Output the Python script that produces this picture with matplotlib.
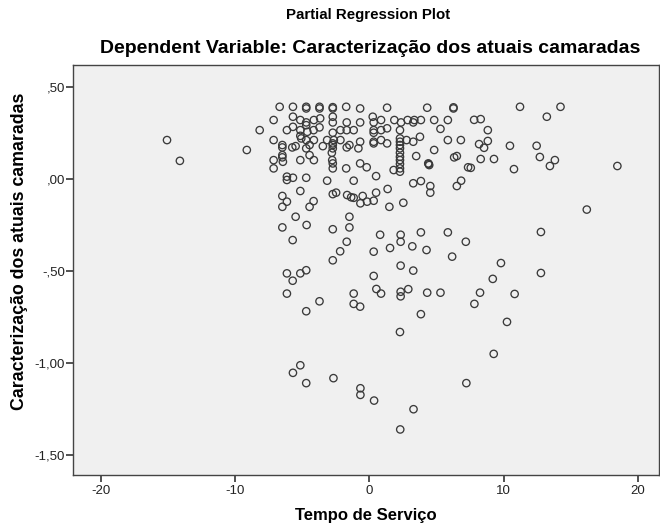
import matplotlib
matplotlib.use("Agg")
import matplotlib.pyplot as plt
from matplotlib.ticker import FuncFormatter

plt.rcParams['font.family'] = ['Liberation Sans', 'DejaVu Sans']
plt.rcParams['axes.unicode_minus'] = False

# residuals (Tempo de Serviço, Caracterização)
tempo = [
    -15.09, -14.13, -9.14, -8.18, -7.14, -7.14, -7.14, -7.14,
    -6.69, -5.70, -4.71, -4.71, -3.72, -3.72, -2.73, -2.73, -1.73, -0.69, 1.32, 4.31, 6.27, 6.27,
    11.23, 14.25, 13.23, 7.81, 8.30, 8.83, 8.18, 8.83, 8.55, 10.48, 12.47, 8.30, 9.29, 12.71,
    13.83, 13.46, 7.56, 10.78, 18.49, 16.21,
    -5.70, -5.15, -4.71, -4.71, -4.14, -3.67, -2.73, -2.73, -1.69, -0.69, 0.25, 0.32, 0.87, 1.86,
    2.36, 2.85, 3.35, 3.27, 3.84, 4.83, 5.85,
    -6.15, -5.70, -5.15, -4.63, -4.16, -3.72, -2.73, -2.16, -1.69, -1.17, 0.32, 0.32, 0.87, 1.32,
    2.28, 5.30,
    -5.15, -5.08, -4.71, -4.14, -3.15, -2.65, -2.73, -2.16, -0.69, 0.32, 0.32, 0.87, 1.32, 2.28,
    2.28, 2.28, 2.77, 3.27, 3.77, 5.85, 6.82,
    -6.49, -6.49, -5.75, -5.50, -4.71, -4.46, -3.47, -2.73, -2.73, -2.80, -1.69, -1.49, -0.82,
    2.28, 2.28, 4.83, 3.49,
    -6.49, -6.49, -6.45, -5.15, -4.46, -4.14, -2.77, -2.73, -2.73, -1.73, -0.69, -0.20, 2.28,
    2.28, 2.28, 2.28, 2.28, 1.81, 4.39, 4.46, 4.42, 6.32, 6.52, 7.36,
    -6.15, -6.15, -5.70, -4.71, -3.15, -1.17, 0.50, 1.36, 3.27, 3.84, 4.54, 4.54, 6.52, 6.84,
    -5.15, -6.49, -6.15, -6.49, -4.16, -4.46, -2.73, -2.48, -1.66, -1.36, -1.17, -0.50, -0.67,
    -0.17, 0.32, 0.50, 1.49, 2.53, -5.50, -1.49,
    -6.49, -4.68, -2.73, -1.49, -5.72, -1.69, -2.18, -2.73, 0.80, 2.33, 2.33, 3.84, 5.85, 7.19,
    1.54, 3.20, 4.26, 6.17, 0.32, 2.33, 3.27, 0.32, -6.15, -5.15, -4.71, -5.72, -6.15, -3.72,
    -4.71, -1.17, -1.17, -0.69, 0.52, 0.87, 2.33, 2.33, 2.90, 4.31, 5.30, 3.84, 2.28,
    12.79, 9.81, 12.79, 9.20, 8.25, 10.83, 7.83, 10.26, 9.27,
    -5.70, -5.15, -4.71, -2.68, -0.67, -0.67, 0.35, 3.29, 2.30, 7.23,
]
caracterizacao = [
    0.212, 0.099, 0.158, 0.266, 0.321, 0.212, 0.103, 0.058,
    0.393, 0.393, 0.393, 0.384, 0.393, 0.384, 0.391, 0.384, 0.393, 0.384, 0.388, 0.388, 0.390, 0.384,
    0.393, 0.393, 0.339, 0.322, 0.326, 0.266, 0.190, 0.207, 0.170, 0.181, 0.181, 0.109, 0.109, 0.120,
    0.103, 0.071, 0.061, 0.054, 0.071, -0.166,
    0.339, 0.321, 0.308, 0.293, 0.321, 0.330, 0.339, 0.308, 0.308, 0.308, 0.339, 0.308, 0.321, 0.321,
    0.308, 0.321, 0.321, 0.308, 0.321, 0.321, 0.321,
    0.266, 0.284, 0.266, 0.257, 0.266, 0.281, 0.252, 0.266, 0.266, 0.266, 0.266, 0.252, 0.266, 0.276,
    0.266, 0.273,
    0.235, 0.221, 0.212, 0.212, 0.212, 0.212, 0.194, 0.212, 0.203, 0.203, 0.194, 0.212, 0.194, 0.221,
    0.203, 0.185, 0.212, 0.203, 0.230, 0.212, 0.212,
    0.185, 0.172, 0.172, 0.179, 0.167, 0.185, 0.179, 0.185, 0.167, 0.143, 0.172, 0.185, 0.167,
    0.167, 0.143, 0.158, 0.125,
    0.130, 0.118, 0.094, 0.103, 0.130, 0.103, 0.103, 0.085, 0.058, 0.058, 0.085, 0.064, 0.121,
    0.103, 0.082, 0.058, 0.040, 0.049, 0.085, 0.076, 0.082, 0.118, 0.125, 0.064,
    0.013, -0.005, 0.007, 0.007, -0.009, -0.009, 0.016, -0.054, -0.023, -0.011, -0.038, -0.074, -0.038, -0.009,
    -0.065, -0.092, -0.123, -0.151, -0.120, -0.151, -0.082, -0.074, -0.087, -0.099, -0.102, -0.092, -0.132,
    -0.123, -0.118, -0.074, -0.151, -0.129, -0.205, -0.205,
    -0.263, -0.250, -0.273, -0.263, -0.332, -0.341, -0.393, -0.442, -0.303, -0.303, -0.341, -0.290, -0.290, -0.341,
    -0.375, -0.366, -0.386, -0.422, -0.395, -0.471, -0.498, -0.527, -0.513, -0.513, -0.496, -0.553, -0.623, -0.665,
    -0.719, -0.623, -0.679, -0.694, -0.598, -0.623, -0.613, -0.638, -0.599, -0.618, -0.618, -0.735, -0.832,
    -0.288, -0.457, -0.511, -0.543, -0.618, -0.625, -0.679, -0.777, -0.951,
    -1.054, -1.013, -1.110, -1.083, -1.138, -1.174, -1.205, -1.252, -1.362, -1.110,
]

x_ticks = [-20, -10, 0, 10, 20]
y_ticks = [0.5, 0.0, -0.5, -1.0, -1.5]


def comma_fmt(v, pos):
    s = f"{abs(v):.2f}".replace('.', ',')
    if s.startswith('0,'):
        s = s[1:]
    return ('-' if v < 0 else '') + s


fig = plt.figure(figsize=(6.6, 5.29), dpi=100)
fig.patch.set_facecolor('white')
ax = fig.add_axes([0.1106, 0.102, 0.888, 0.775])
ax.set_facecolor('#f0f0f0')

ax.scatter(tempo, caracterizacao, s=28, facecolors='none', edgecolors='#3a3a3a',
           linewidths=0.95, zorder=3)

ax.set_xlim(-22.1, 21.6)
ax.set_ylim(-1.61, 0.62)
ax.set_xticks(x_ticks)
ax.set_yticks(y_ticks)
ax.yaxis.set_major_formatter(FuncFormatter(comma_fmt))
ax.tick_params(direction='out', length=5, width=1.2, color='#333333',
               labelsize=9.5, labelcolor='#222222', pad=2)
ax.tick_params(axis='y', pad=0.6)

for side in ['left', 'bottom', 'top', 'right']:
    ax.spines[side].set_color('#444444')
    ax.spines[side].set_linewidth(1.0)

ax.set_xlabel('Tempo de Serviço', fontsize=12, fontweight='bold', labelpad=8)
ax.set_ylabel('Caracterização dos atuais camaradas', fontsize=12.8, fontweight='bold')
ax.yaxis.set_label_coords(-0.077, 0.546)

fig.text(0.558, 0.972, 'Partial Regression Plot', ha='center', va='center',
         fontsize=10.8, fontweight='bold')
fig.text(0.561, 0.909, 'Dependent Variable: Caracterização dos atuais camaradas',
         ha='center', va='center', fontsize=14, fontweight='bold')

fig.savefig('out.png', dpi=100)
